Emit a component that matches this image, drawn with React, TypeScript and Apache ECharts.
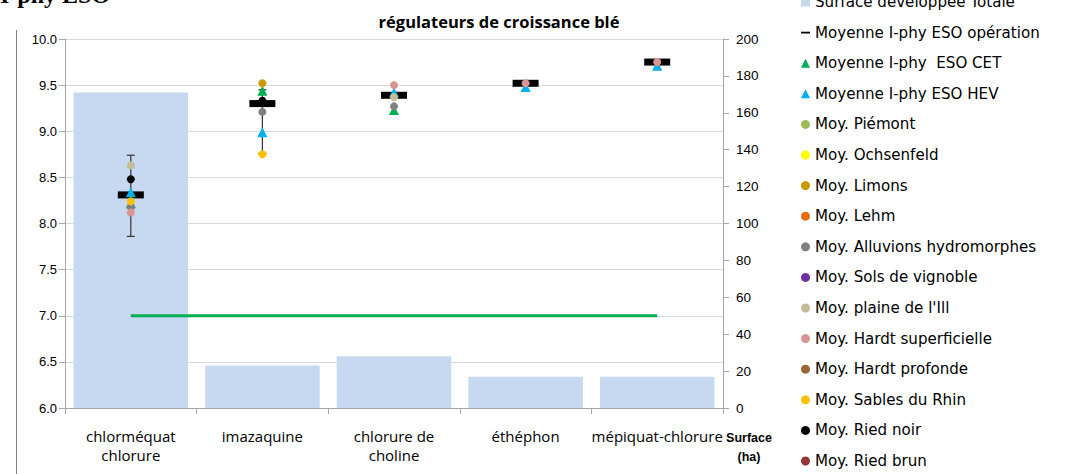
import React, { useEffect, useRef } from "react";
import * as echarts from "echarts";

const categories = ["chlorméquat\nchlorure", "imazaquine", "chlorure de\ncholine", "éthéphon", "mépiquat-chlorure"];
const surface = [171, 23, 28, 17, 17];
const seuil = [7, 7, 7, 7, 7];
const moyOperation = [8.31, 9.3, 9.39, 9.52, 9.75];
const errLow = [7.86, 8.76, null, null, null];
const errHigh = [8.74, 9.45, null, null, null];
const moyCET = [8.22, 9.44, 9.23, null, null];
const moyHEV = [8.34, 8.99, 9.42, 9.48, 9.71];
const piemont = [null, null, null, null, null];
const ochsenfeld = [null, null, null, null, null];
const limons = [null, 9.52, null, null, null];
const lehm = [null, null, null, null, null];
const alluvions = [8.18, 9.21, 9.27, null, null];
const vignoble = [null, null, null, null, null];
const plaineIll = [8.63, null, 9.37, null, null];
const hardtSup = [8.12, null, 9.5, 9.52, 9.75];
const hardtProf = [null, null, null, null, null];
const sablesRhin = [8.24, 8.75, null, null, null];
const riedNoir = [8.48, 9.33, null, null, null];
const riedBrun = [null, null, null, null, null];

const soils: [string, (number | null)[], string][] = [
  ["Moy. Piémont", piemont, "#9BBB59"],
  ["Moy. Ochsenfeld", ochsenfeld, "#FFFF00"],
  ["Moy. Limons", limons, "#CC9900"],
  ["Moy. Lehm", lehm, "#E46C0A"],
  ["Moy. Alluvions hydromorphes", alluvions, "#808080"],
  ["Moy. Sols de vignoble", vignoble, "#7030A0"],
  ["Moy. plaine de l'Ill", plaineIll, "#C4BD97"],
  ["Moy. Hardt superficielle", hardtSup, "#D99594"],
  ["Moy. Hardt profonde", hardtProf, "#996633"],
  ["Moy. Sables du Rhin", sablesRhin, "#FFC000"],
  ["Moy. Ried noir", riedNoir, "#000000"],
  ["Moy. Ried brun", riedBrun, "#953735"],
];

const FONT = "'Open Sans', 'Liberation Sans', Arial, sans-serif";
const LEGFONT = "'DejaVu Sans', 'Open Sans', sans-serif";
const NUMFONT = "'Liberation Sans', Arial, sans-serif";

export default function App() {
  const ref = useRef<HTMLDivElement>(null);
  useEffect(() => {
    if (!ref.current) return;
    const chart = echarts.init(ref.current, null, { renderer: "svg" });
    const nameBar = "Surface développée Totale";
    const nameOp = "Moyenne I-phy ESO opération";
    const nameCET = "Moyenne I-phy  ESO CET";
    const nameHEV = "Moyenne I-phy ESO HEV";
    const errData = errLow
      .map((l, i) => (l != null && errHigh[i] != null ? [i, l, errHigh[i]] : null))
      .filter((d) => d !== null);
    const option: any = {
      animation: false,
      textStyle: { fontFamily: FONT },
      title: {
        text: "régulateurs de croissance blé",
        left: 494,
        top: 8,
        textAlign: "center",
        textStyle: { fontSize: 16.5, fontWeight: "bold", color: "#000", fontFamily: FONT },
      },
      legend: {
        orient: "vertical",
        left: 796,
        top: -13,
        height: 540,
        itemWidth: 9,
        itemHeight: 9,
        itemGap: 10.6,
        textStyle: { fontSize: 15.1, color: "#000", lineHeight: 20, fontFamily: LEGFONT },
        data: [
          { name: nameBar, icon: "rect" },
          { name: nameOp, icon: "path://M0,0 M0,4 L10,4 L10,6 L0,6 Z M10,10" },
          { name: nameCET, icon: "triangle" },
          { name: nameHEV, icon: "triangle" },
          ...soils.map((s) => ({ name: s[0], icon: "circle" })),
        ],
      },
      grid: { left: 65, right: 349, top: 39, bottom: 66 },
      xAxis: {
        type: "category",
        data: categories,
        axisLine: { lineStyle: { color: "#A6A6A6" } },
        axisTick: { show: true, alignWithLabel: false, length: 6, lineStyle: { color: "#A6A6A6" } },
        axisLabel: { color: "#000", fontSize: 15, lineHeight: 19, margin: 18, fontFamily: FONT, interval: 0 },
      },
      yAxis: [
        {
          type: "value",
          min: 6,
          max: 10,
          interval: 0.5,
          axisLine: { show: true, lineStyle: { color: "#A6A6A6" } },
          axisTick: { show: true, length: 6, lineStyle: { color: "#A6A6A6" } },
          splitLine: { lineStyle: { color: "#D9D9D9" } },
          axisLabel: { color: "#000", fontSize: 13, margin: 8, fontFamily: NUMFONT, formatter: (v: number) => v.toFixed(1) },
        },
        {
          type: "value",
          min: 0,
          max: 200,
          interval: 20,
          position: "right",
          axisLine: { show: true, lineStyle: { color: "#A6A6A6" } },
          axisTick: { show: true, length: 6, lineStyle: { color: "#A6A6A6" } },
          splitLine: { show: false },
          axisLabel: { color: "#000", fontSize: 13.5, margin: 13, fontFamily: NUMFONT },
        },
      ],
      series: [
        {
          name: nameBar,
          type: "bar",
          yAxisIndex: 1,
          data: surface,
          barCategoryGap: "13%",
          itemStyle: { color: "#C6D9F1" },
          z: 1,
        },
        {
          name: "seuil",
          type: "line",
          yAxisIndex: 0,
          data: seuil,
          showSymbol: false,
          lineStyle: { color: "#00B050", width: 3 },
          itemStyle: { color: "#00B050" },
          z: 2,
        },
        {
          name: "errorbar",
          type: "custom",
          yAxisIndex: 0,
          data: errData,
          z: 3,
          renderItem: (params: any, api: any) => {
            const lo = api.coord([api.value(0), api.value(1)]);
            const hi = api.coord([api.value(0), api.value(2)]);
            const w = 4;
            const st = { stroke: "#333", lineWidth: 1.2 };
            return {
              type: "group",
              children: [
                { type: "line", shape: { x1: lo[0], y1: lo[1], x2: hi[0], y2: hi[1] }, style: st },
                { type: "line", shape: { x1: lo[0] - w, y1: lo[1], x2: lo[0] + w, y2: lo[1] }, style: st },
                { type: "line", shape: { x1: hi[0] - w, y1: hi[1], x2: hi[0] + w, y2: hi[1] }, style: st },
              ],
            };
          },
        },
        {
          name: nameOp,
          type: "scatter",
          yAxisIndex: 0,
          data: moyOperation,
          symbol: "rect",
          symbolSize: [26, 7],
          itemStyle: { color: "#000", opacity: 1 },
          z: 4,
        },
        {
          name: nameCET,
          type: "scatter",
          yAxisIndex: 0,
          data: moyCET,
          symbol: "triangle",
          symbolSize: 10,
          itemStyle: { color: "#00B050", opacity: 1 },
          z: 5,
        },
        {
          name: nameHEV,
          type: "scatter",
          yAxisIndex: 0,
          data: moyHEV,
          symbol: "triangle",
          symbolSize: 10,
          itemStyle: { color: "#00B0F0", opacity: 1 },
          z: 5,
        },
        ...soils.map((s) => ({
          name: s[0],
          type: "scatter",
          yAxisIndex: 0,
          data: s[1],
          symbol: "circle",
          symbolSize: 8,
          itemStyle: { color: s[2], opacity: 1 },
          z: 6,
        })),
      ],
      graphic: [
        {
          type: "line",
          shape: { x1: 16.5, y1: 30, x2: 16.5, y2: 474 },
          style: { stroke: "#7F7F7F", lineWidth: 1 },
        },
        {
          type: "text",
          left: 0,
          top: -17,
          style: { text: "I-phy ESO", font: "bold 24px 'Liberation Serif', 'Times New Roman', serif", fill: "#000" },
        },
        {
          type: "text",
          x: 749,
          y: 428,
          style: {
            text: "Surface\n(ha)",
            fontSize: 12.5,
            fontWeight: "bold",
            fontFamily: NUMFONT,
            lineHeight: 19,
            align: "center",
            fill: "#000",
          },
        },
      ],
    };
    chart.setOption(option);
    return () => chart.dispose();
  }, []);
  return <div ref={ref} style={{ position: "fixed", left: 0, top: 0, width: 1072, height: 474, background: "#fff" }} />;
}
